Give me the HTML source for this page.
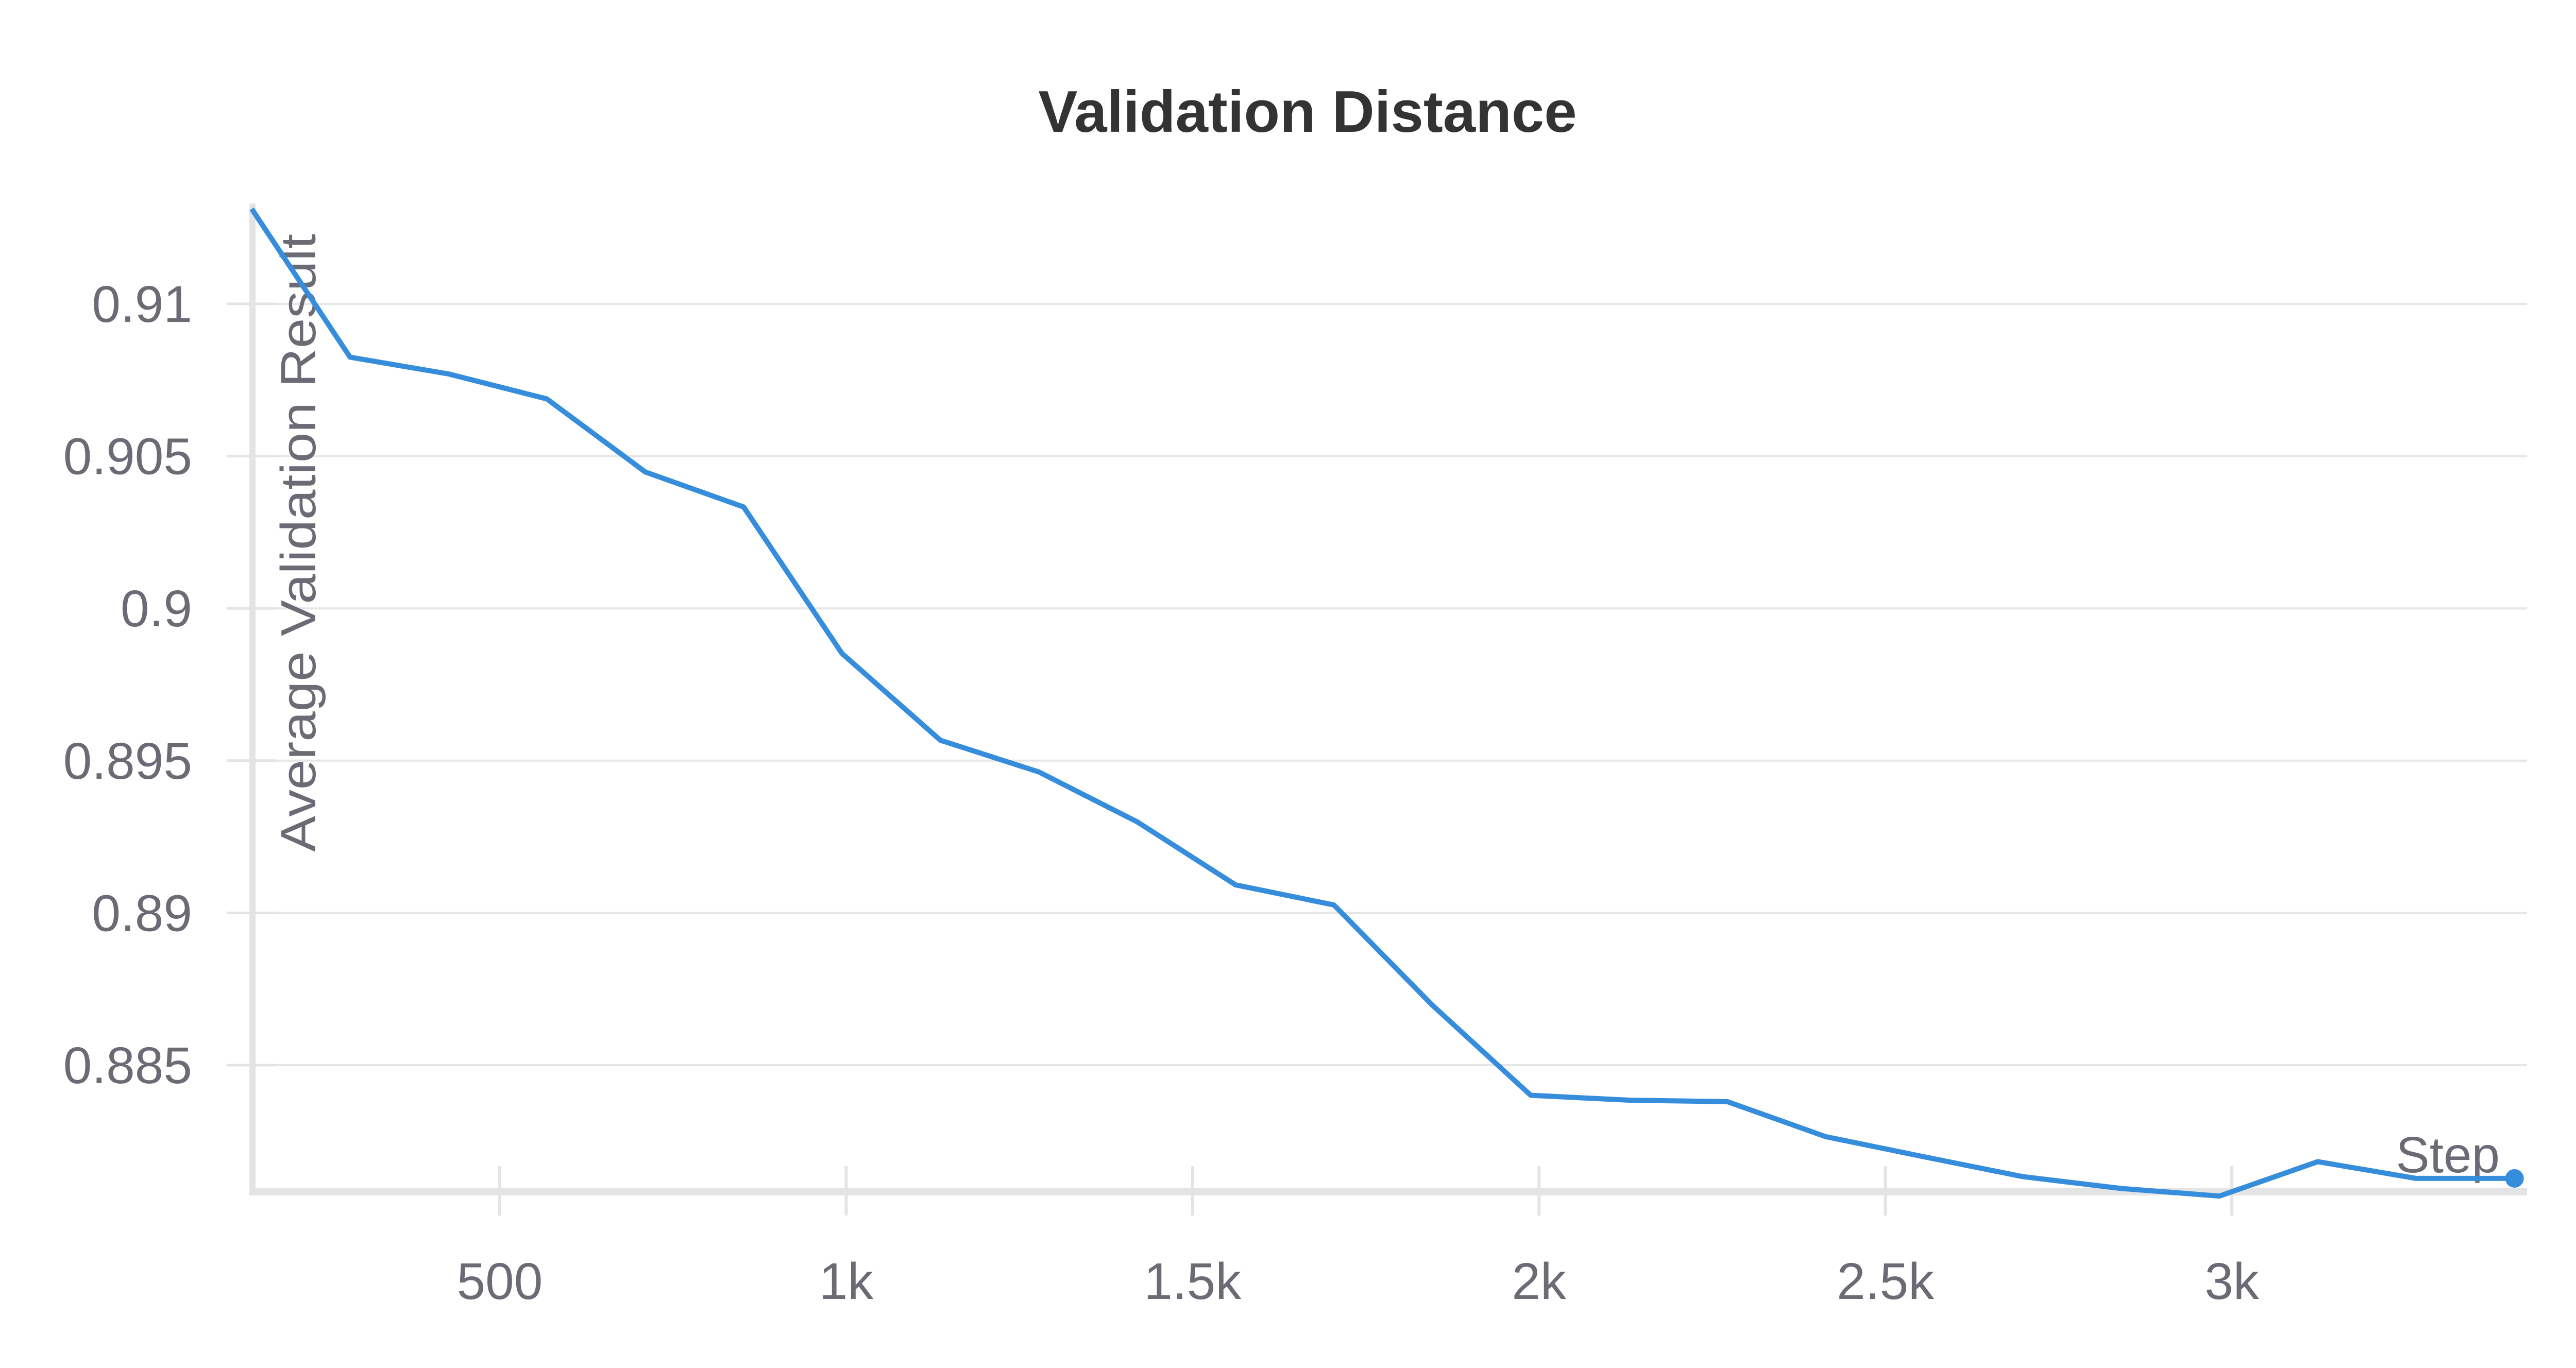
<!DOCTYPE html>
<html><head><meta charset="utf-8"><style>
html,body{margin:0;padding:0;background:#fff;}
svg{display:block;font-family:"Liberation Sans",sans-serif;}
</style></head><body>
<svg id="chart" width="5056" height="2656" viewBox="0 0 5056 2656">
<text x="2538" y="256" text-anchor="middle" font-size="114" font-weight="bold" fill="#333">Validation Distance</text>
<g id="grid"></g><g id="yticks"></g><g id="xticks"></g>
<text transform="translate(612,1054) rotate(-90)" text-anchor="middle" font-size="96" fill="#6b6b76" textLength="1200" lengthAdjust="spacingAndGlyphs">Average Validation Result</text>
<text x="4852" y="2276" text-anchor="end" font-size="98" fill="#6b6b76">Step</text>
<g id="series"></g>
</svg>
<script>
const steps=[142,284,426,568,710,852,994,1136,1278,1420,1562,1704,1846,1988,2130,2272,2414,2556,2698,2840,2982,3124,3266,3408];
const values=[0.91312,0.90825,0.90770,0.90688,0.90448,0.90333,0.89852,0.89567,0.89463,0.89299,0.89092,0.89026,0.88697,0.88401,0.88385,0.88380,0.88265,0.88199,0.88134,0.88095,0.88070,0.88183,0.88128,0.88128];
const yTicks=[0.91,0.905,0.9,0.895,0.89,0.885];
const yTickLabels=["0.91","0.905","0.9","0.895","0.89","0.885"];
const xTicks=[500,1000,1500,2000,2500,3000];
const xTickLabels=["500","1k","1.5k","2k","2.5k","3k"];
const NS="http://www.w3.org/2000/svg";
const L=490,R=4905,AX=2314;
const xs=v=>970+(v-500)*1.3448;
const ys=v=>590+(0.91-v)/0.005*295.6;
function mk(p,t,a){const e=document.createElementNS(NS,t);for(const k in a)e.setAttribute(k,a[k]);document.getElementById(p).appendChild(e);return e;}
yTicks.forEach((v,i)=>{
 const g=mk('grid','line',{x1:L,x2:R,y1:ys(v),y2:ys(v),stroke:'#e6e6e6','stroke-width':4});
 
 
 const tk=mk('yticks','line',{x1:440,x2:535,y1:ys(v),y2:ys(v),stroke:'#e4e4e6','stroke-width':5});
 
 
 const t=mk('yticks','text',{x:373,y:ys(v)+35,'text-anchor':'end','font-size':100,fill:'#6b6b76'});
 t.textContent=yTickLabels[i];
 
 
});
const ax=mk('grid','line',{x1:L,x2:R,y1:AX,y2:AX,stroke:'#e4e4e6','stroke-width':14});


const ay=mk('grid','line',{x1:L,x2:L,y1:395,y2:AX+7,stroke:'#e4e4e6','stroke-width':12});


xTicks.forEach((v,i)=>{
 const tk=mk('xticks','line',{x1:xs(v),x2:xs(v),y1:2264,y2:2360,stroke:'#e4e4e6','stroke-width':6});
 
 
 const t=mk('xticks','text',{x:xs(v),y:2522,'text-anchor':'middle','font-size':100,fill:'#6b6b76'});
 t.textContent=xTickLabels[i];
 
 
});
const pts=steps.map((s,i)=>xs(s).toFixed(1)+','+ys(values[i]).toFixed(1)).join(' ');
const pl=mk('series','polyline',{points:pts,fill:'none',stroke:'#368ddb','stroke-width':10,'stroke-linejoin':'round'});


const n=steps.length-1;
const dot=mk('series','circle',{cx:xs(steps[n]),cy:ys(values[n]),r:18,fill:'#368ddb'});


</script>
</body></html>
